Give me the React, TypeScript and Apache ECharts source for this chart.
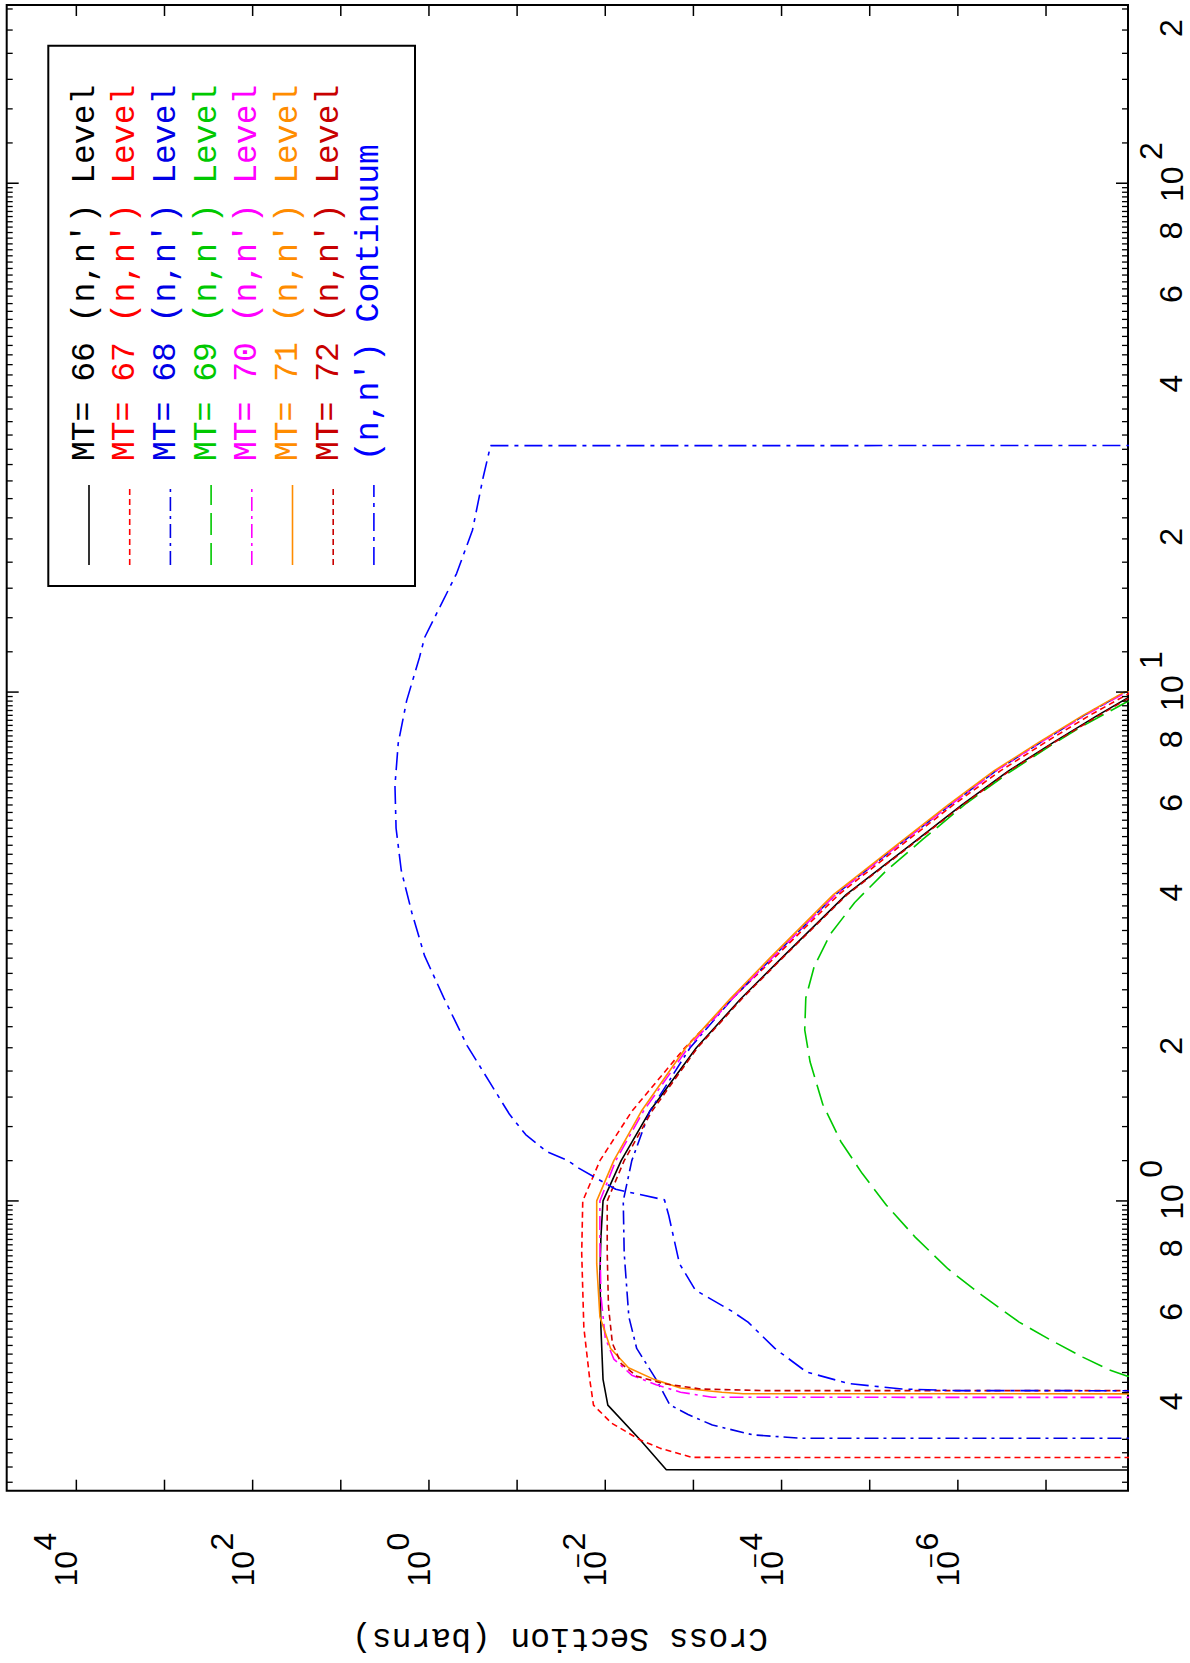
import React, { useEffect, useRef } from "react";
import * as echarts from "echarts";

// ---- axis extents (read from the frame) ----
const CS_MIN = 1.175e-8; // cross section, barns (right edge)
const CS_MAX = 6.166e4; // left edge
const E_MIN = 0.2695; // energy, MeV (bottom edge)
const E_MAX = 224; // top edge

// ---- tick values / labels ----
const CS_TICKS = [1e4, 1e3, 1e2, 1e1, 1, 1e-1, 1e-2, 1e-3, 1e-4, 1e-5, 1e-6, 1e-7];
const CS_LABEL_EXPS = [4, 2, 0, -2, -4, -6];
const E_DECADES = [1, 10, 100];
const E_DECADE_EXPS = ["0", "1", "2"];
const E_DIGIT_TICKS = [0.4, 0.6, 0.8, 2, 4, 6, 8, 20, 40, 60, 80, 200];
const E_DIGIT_LABELS = ["4", "6", "8", "2", "4", "6", "8", "2", "4", "6", "8", "2"];

// ---- data: energies (MeV) and cross sections (barns) ----
const MT66_E = [0.2959, 0.2962, 0.339, 0.397, 0.446, 0.564, 0.718, 0.85, 1.0, 1.2, 1.5, 2, 2.5, 3, 4, 5, 6, 7, 8, 9, 10, 11];
const MT66_S = [1e-10, 2.03e-3, 4.0e-3, 9.35e-3, 1.06e-2, 1.12e-2, 1.15e-2, 1.12e-2, 1.06e-2, 6.6e-3, 3.13e-3, 9.25e-4, 2.88e-4, 1.0e-4, 1.85e-5, 3.5e-6, 9.0e-7, 2.66e-7, 7.9e-8, 2.6e-8, 9.1e-9, 1e-10];

const MT67_E = [0.3131, 0.3133, 0.3264, 0.339, 0.366, 0.397, 0.446, 0.564, 0.79, 1.0, 1.2, 1.5, 2, 2.5, 3, 4, 5, 6, 7, 8, 9, 10, 11];
const MT67_S = [1e-10, 1.03e-3, 2.37e-3, 4.0e-3, 8.5e-3, 1.36e-2, 1.5e-2, 1.75e-2, 1.85e-2, 1.8e-2, 1.15e-2, 5.0e-3, 1.25e-3, 3.6e-4, 1.22e-4, 2.25e-5, 4.4e-6, 1.13e-6, 3.3e-7, 9.8e-8, 3.2e-8, 1.07e-8, 1e-10];

const MT68_E = [0.3416, 0.3418, 0.347, 0.3627, 0.3805, 0.3974, 0.446, 0.513, 0.592, 0.79, 1.0, 1.2, 1.5, 2, 2.5, 3, 4, 5, 6, 7, 8, 9, 10, 11];
const MT68_S = [1e-10, 6.1e-5, 2.12e-4, 6.1e-4, 1.15e-3, 1.85e-3, 2.65e-3, 4.4e-3, 5.4e-3, 6.1e-3, 6.25e-3, 5.0e-3, 3.13e-3, 1.09e-3, 3.6e-4, 1.29e-4, 2.44e-5, 4.76e-6, 1.22e-6, 3.7e-7, 1.1e-7, 3.7e-8, 1.26e-8, 1e-10];

const MT69_E = [0.452, 0.4522, 0.4657, 0.4932, 0.5326, 0.578, 0.652, 0.735, 0.849, 0.981, 1.133, 1.309, 1.549, 1.877, 2.168, 2.505, 2.89, 3.34, 3.86, 4.46, 5.15, 6.04, 6.94, 7.86, 8.58, 9.58, 10.5];
const MT69_S = [1e-10, 1.19e-8, 1.91e-8, 3.83e-8, 8.8e-8, 2.02e-7, 5.3e-7, 1.29e-6, 3.05e-6, 6.46e-6, 1.22e-5, 2.13e-5, 3.41e-5, 4.75e-5, 5.46e-5, 5.31e-5, 4.26e-5, 2.81e-5, 1.48e-5, 6.46e-6, 2.45e-6, 8.07e-7, 2.66e-7, 8.8e-8, 3.83e-8, 1.19e-8, 1e-10];

const MT70_E = [0.411, 0.4113, 0.4209, 0.4352, 0.4546, 0.489, 0.538, 0.652, 0.829, 1.0, 1.2, 1.5, 2, 2.5, 3, 4, 5, 6, 7, 8, 9, 10, 11];
const MT70_S = [1e-10, 6.1e-4, 1.4e-3, 2.65e-3, 5.0e-3, 8.0e-3, 1.0e-2, 1.12e-2, 1.15e-2, 1.15e-2, 7.6e-3, 3.7e-3, 1.15e-3, 3.6e-4, 1.29e-4, 2.44e-5, 4.76e-6, 1.22e-6, 3.7e-7, 1.1e-7, 3.6e-8, 1.23e-8, 1e-10];

const MT71_E = [0.4177, 0.4179, 0.4209, 0.429, 0.446, 0.47, 0.513, 0.592, 0.753, 1.0, 1.2, 1.5, 2, 2.5, 3, 4, 5, 6, 7, 8, 9, 10, 11];
const MT71_S = [1e-10, 2.73e-4, 4.75e-4, 1.4e-3, 2.8e-3, 5.45e-3, 8.7e-3, 1.15e-2, 1.25e-2, 1.25e-2, 8.0e-3, 3.9e-3, 1.22e-3, 3.8e-4, 1.36e-4, 2.58e-5, 5.0e-6, 1.29e-6, 3.9e-7, 1.16e-7, 3.8e-8, 1.3e-8, 1e-10];

const MT72_E = [0.4237, 0.4239, 0.427, 0.4375, 0.4522, 0.479, 0.525, 0.621, 0.79, 1.0, 1.2, 1.5, 2, 2.5, 3, 4, 5, 6, 7, 8, 9, 10, 11];
const MT72_S = [1e-10, 1.57e-4, 8.3e-4, 2.18e-3, 4.37e-3, 6.6e-3, 8.3e-3, 9.2e-3, 9.5e-3, 9.5e-3, 6.1e-3, 2.96e-3, 9.0e-4, 2.8e-4, 9.8e-5, 1.8e-5, 3.4e-6, 8.8e-7, 2.6e-7, 7.7e-8, 2.5e-8, 8.8e-9, 1e-10];

const MT91_E = [0.4237, 0.4238, 0.427, 0.4375, 0.461, 0.513, 0.578, 0.606, 0.668, 0.753, 0.935, 1.005, 1.054, 1.16, 1.2, 1.25, 1.35, 1.48, 1.7, 2.02, 2.51, 3.03, 3.68, 4.46, 5.4, 6.55, 7.94, 9.62, 11.7, 12.8, 14.1, 17.1, 20.8, 26.4, 30.5, 30.52];
const MT91_S = [1e-10, 1.0e-6, 4.3e-6, 1.71e-5, 5.2e-5, 1.19e-4, 2.4e-4, 3.6e-4, 9.5e-4, 1.44e-3, 1.9e-3, 2.13e-3, 7.6e-3, 2.0e-2, 2.65e-2, 4.6e-2, 8.0e-2, 0.122, 0.2, 0.369, 0.68, 1.12, 1.56, 2.06, 2.36, 2.43, 2.23, 1.79, 1.28, 1.12, 0.847, 0.486, 0.321, 0.243, 0.2, 1e-10];

const LEGEND_LABELS = [
  "MT= 66 (n,n') Level",
  "MT= 67 (n,n') Level",
  "MT= 68 (n,n') Level",
  "MT= 69 (n,n') Level",
  "MT= 70 (n,n') Level",
  "MT= 71 (n,n') Level",
  "MT= 72 (n,n') Level",
  "(n,n') Continuum",
];

const CURVES = [
  { e: MT66_E, s: MT66_S, color: "#000000", dash: "solid" as any },
  { e: MT67_E, s: MT67_S, color: "#ff0000", dash: [6, 4] },
  { e: MT68_E, s: MT68_S, color: "#0000e6", dash: [14, 5, 3, 5] },
  { e: MT69_E, s: MT69_S, color: "#00c800", dash: [22, 8] },
  { e: MT70_E, s: MT70_S, color: "#ff00ff", dash: [14, 5, 3, 5] },
  { e: MT71_E, s: MT71_S, color: "#ff8c00", dash: "solid" as any },
  { e: MT72_E, s: MT72_S, color: "#c80000", dash: [6, 4] },
  { e: MT91_E, s: MT91_S, color: "#0000ff", dash: [18, 6, 4, 6] },
];

const NUM_FONT = '"Liberation Sans", Arial, sans-serif';
const MONO_FONT = '"Liberation Mono", "Courier New", monospace';

function rotText(text: string, x: number, y: number, size: number, family: string, color = "#000", align = "center", rotation = Math.PI / 2) {
  return {
    type: "text",
    x,
    y,
    rotation,
    silent: true,
    style: {
      text,
      fill: color,
      fontSize: size,
      fontFamily: family,
      align,
      verticalAlign: "middle",
      textAlign: align,
      textVerticalAlign: "middle",
    },
  };
}

function seg(x1: number, y1: number, x2: number, y2: number, w = 1.5) {
  return { type: "line", shape: { x1, y1, x2, y2 }, style: { stroke: "#000", lineWidth: w } };
}

export default function App() {
  const ref = useRef<HTMLDivElement>(null);

  useEffect(() => {
    if (!ref.current) return;
    const chart = echarts.init(ref.current, undefined, { renderer: "svg", width: 1190, height: 1663 });

    const minorE: number[] = [];
    for (const d of [0.1, 1, 10, 100]) {
      for (let i = 6; i < 50; i++) {
        const v = (d * i) / 5;
        if (v >= E_MIN && v <= E_MAX) minorE.push(v);
      }
    }

    const lineSeries = CURVES.map((c) => ({
      type: "line",
      data: c.e.slice(0, Math.min(c.e.length, c.s.length)).map((e, i) => [c.s[i], e]),
      showSymbol: false,
      symbol: "none",
      clip: true,
      silent: true,
      z: 2,
      lineStyle: { color: c.color, width: 1.6, type: c.dash },
    }));

    const csTickSeries = {
      type: "custom",
      coordinateSystem: "cartesian2d",
      clip: false,
      silent: true,
      z: 5,
      data: CS_TICKS.map((v) => [v, E_MIN]),
      renderItem: (params: any, api: any) => {
        const cs = params.coordSys;
        const v = api.value(0);
        const x = api.coord([v, E_MIN])[0];
        const bottom = cs.y + cs.height;
        const top = cs.y;
        const children: any[] = [seg(x, bottom, x, bottom - 11), seg(x, top, x, top + 11)];
        const exp = Math.round(Math.log10(v));
        if (CS_LABEL_EXPS.indexOf(exp) >= 0) {
          children.push(rotText("10", x - 10, bottom + 78, 32, NUM_FONT));
          children.push(rotText(String(Math.abs(exp)), x - 31, bottom + 51, 32, NUM_FONT));
          if (exp < 0) children.push(rotText("\u2212", x - 27, bottom + 70, 26, NUM_FONT));
        }
        return { type: "group", children };
      },
    };

    const eMinorSeries = {
      type: "custom",
      coordinateSystem: "cartesian2d",
      clip: false,
      silent: true,
      z: 5,
      data: minorE.map((v) => [CS_MAX, v]),
      renderItem: (params: any, api: any) => {
        const cs = params.coordSys;
        const y = api.coord([CS_MAX, api.value(1)])[1];
        const r = cs.x + cs.width;
        return { type: "group", children: [seg(cs.x, y, cs.x + 6, y, 1.3), seg(r, y, r - 6, y, 1.3)] };
      },
    };

    const eMajorSeries = {
      type: "custom",
      coordinateSystem: "cartesian2d",
      clip: false,
      silent: true,
      z: 5,
      data: E_DECADES.map((v) => [CS_MAX, v]),
      renderItem: (params: any, api: any) => {
        const cs = params.coordSys;
        const y = api.coord([CS_MAX, api.value(1)])[1];
        const r = cs.x + cs.width;
        return {
          type: "group",
          children: [
            seg(cs.x, y, cs.x + 12, y),
            seg(r, y, r - 12, y),
            rotText("10", r + 44, y + 1, 32, NUM_FONT),
            rotText(E_DECADE_EXPS[params.dataIndex], r + 23, y - 32, 32, NUM_FONT),
          ],
        };
      },
    };

    const eDigitSeries = {
      type: "custom",
      coordinateSystem: "cartesian2d",
      clip: false,
      silent: true,
      z: 5,
      data: E_DIGIT_TICKS.map((v) => [CS_MAX, v]),
      renderItem: (params: any, api: any) => {
        const cs = params.coordSys;
        const y = api.coord([CS_MAX, api.value(1)])[1];
        const r = cs.x + cs.width;
        return { type: "group", children: [rotText(E_DIGIT_LABELS[params.dataIndex], r + 43, y - 2, 32, NUM_FONT)] };
      },
    };

    const legendColors = CURVES.map((c) => c.color);
    const legendDash = CURVES.map((c) => (Array.isArray(c.dash) ? c.dash : null));
    const graphics: any[] = [
      {
        type: "rect",
        shape: { x: 48.3, y: 45.7, width: 366.7, height: 540.3 },
        style: { fill: "none", stroke: "#000", lineWidth: 2 },
        silent: true,
        z: 20,
      },
    ];
    LEGEND_LABELS.forEach((label, i) => {
      const lx = 89 + 40.7 * i;
      graphics.push({
        type: "line",
        shape: { x1: lx, y1: 565, x2: lx, y2: 485 },
        style: { stroke: legendColors[i], lineWidth: 1.6, lineDash: legendDash[i] || undefined },
        silent: true,
        z: 20,
      });
      graphics.push({ ...rotText(label, lx - 4, 461, 33, MONO_FONT, legendColors[i], "left"), z: 20 });
    });
    graphics.push({ ...rotText("Cross Section (barns)", 560, 1637, 33, MONO_FONT, "#000", "center", Math.PI), z: 20 });

    chart.setOption({
      animation: false,
      backgroundColor: "#ffffff",
      grid: {
        left: 6.7,
        top: 5,
        width: 1121.3,
        height: 1485.7,
        show: true,
        borderColor: "#000",
        borderWidth: 2,
        backgroundColor: "transparent",
      },
      xAxis: {
        type: "log",
        logBase: 10,
        inverse: true,
        min: CS_MIN,
        max: CS_MAX,
        axisLine: { show: false },
        axisTick: { show: false },
        axisLabel: { show: false },
        splitLine: { show: false },
      },
      yAxis: {
        type: "log",
        logBase: 10,
        min: E_MIN,
        max: E_MAX,
        axisLine: { show: false },
        axisTick: { show: false },
        axisLabel: { show: false },
        splitLine: { show: false },
      },
      series: [...lineSeries, csTickSeries, eMinorSeries, eMajorSeries, eDigitSeries],
      graphic: { elements: graphics },
    });

    return () => chart.dispose();
  }, []);

  return (
    <div
      ref={ref}
      style={{ position: "absolute", left: 0, top: 0, width: 1190, height: 1663, background: "#fff" }}
    />
  );
}
